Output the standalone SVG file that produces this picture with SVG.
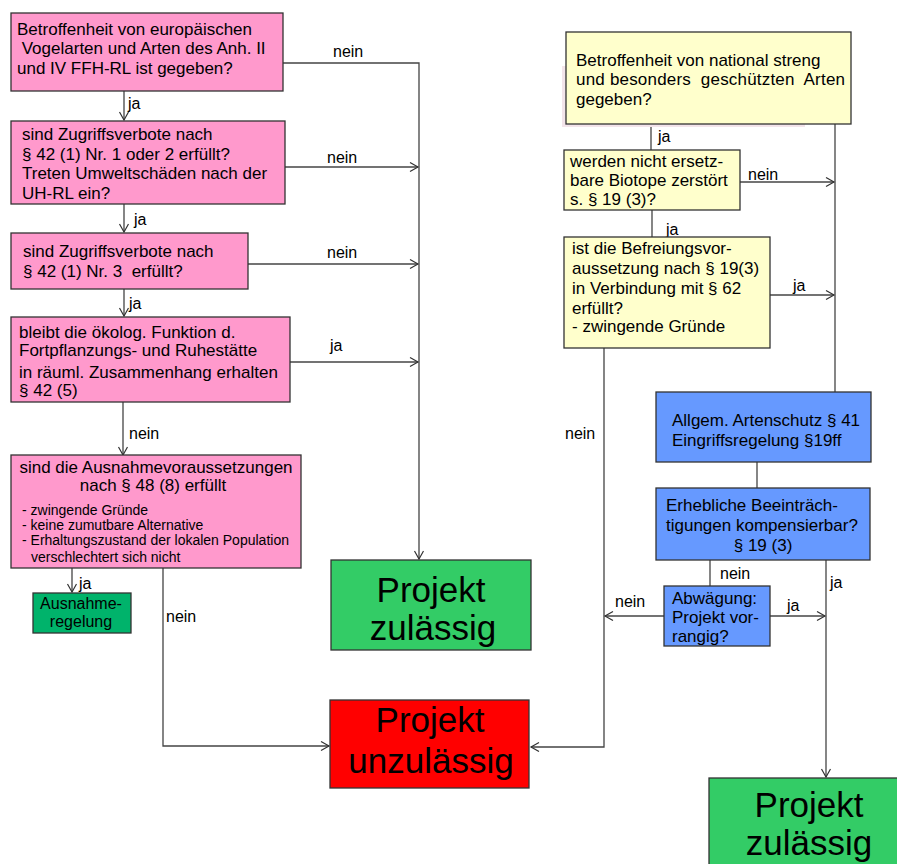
<svg xmlns="http://www.w3.org/2000/svg" width="897" height="864" viewBox="0 0 897 864">
<defs>
<marker id="arr" markerUnits="userSpaceOnUse" markerWidth="12" markerHeight="12" refX="9" refY="5" orient="auto">
<path d="M1,0.5 L9,5 L1,9.5" fill="none" stroke="#333" stroke-width="1.2"/>
</marker>
<style>
text{font-family:"Liberation Sans",Arial,sans-serif;fill:#000}
.t{font-size:17px}
.s{font-size:14px}
.l{font-size:16px}
.b{font-size:35px;text-anchor:middle}
.box{stroke:#333;stroke-width:1.3}
.pink{fill:#FF99CC}
.yel{fill:#FFFFCC}
.blue{fill:#6699FF}
.grn{fill:#33CC66}
.dgrn{fill:#00B36B}
.red{fill:#FF0000}
.c{fill:none;stroke:#444;stroke-width:1.3}
.a{marker-end:url(#arr)}
</style>
</defs>
<rect width="897" height="864" fill="#fff"/>

<g id="connectors">
<polyline class="c a" points="283,63 419,63 419,559"/>
<line class="c a" x1="124" y1="91" x2="124" y2="120"/>
<line class="c a" x1="285" y1="167" x2="418" y2="167"/>
<line class="c a" x1="124" y1="204" x2="124" y2="232"/>
<line class="c a" x1="248" y1="264" x2="418" y2="264"/>
<line class="c a" x1="124" y1="289" x2="124" y2="316"/>
<line class="c a" x1="290" y1="362" x2="418" y2="362"/>
<line class="c a" x1="123" y1="402" x2="123" y2="455"/>
<line class="c a" x1="72" y1="568" x2="72" y2="592"/>
<polyline class="c a" points="163,568 163,746 329,746"/>
<line class="c" x1="651" y1="124" x2="651" y2="150"/>
<line class="c" x1="835" y1="124" x2="835" y2="392"/>
<line class="c a" x1="740" y1="182" x2="834" y2="182"/>
<line class="c" x1="652" y1="210" x2="652" y2="237"/>
<line class="c a" x1="770" y1="295" x2="834" y2="295"/>
<polyline class="c a" points="604,348 604,747 531,747"/>
<line class="c" x1="757" y1="462" x2="757" y2="488"/>
<line class="c" x1="710" y1="560" x2="710" y2="586"/>
<line class="c a" x1="826" y1="560" x2="826" y2="777"/>
<line class="c a" x1="664" y1="616" x2="605" y2="616"/>
<line class="c a" x1="770" y1="616" x2="825" y2="616"/>
<text class="l" x="333" y="57">nein</text>
<text class="l" x="128" y="109">ja</text>
<text class="l" x="327" y="163">nein</text>
<text class="l" x="134" y="225">ja</text>
<text class="l" x="327" y="258">nein</text>
<text class="l" x="129" y="309">ja</text>
<text class="l" x="330" y="351">ja</text>
<text class="l" x="129" y="439">nein</text>
<text class="l" x="79" y="589">ja</text>
<text class="l" x="166" y="622">nein</text>
<text class="l" x="658" y="142">ja</text>
<text class="l" x="748" y="180">nein</text>
<text class="l" x="666" y="235">ja</text>
<text class="l" x="793" y="291">ja</text>
<text class="l" x="565" y="439">nein</text>
<text class="l" x="720" y="579">nein</text>
<text class="l" x="830" y="588">ja</text>
<text class="l" x="615" y="607">nein</text>
<text class="l" x="787" y="611">ja</text>
</g>

<g id="n1">
<rect class="box pink" x="11" y="13" width="272" height="78"/>
<text class="t" x="17" y="35">Betroffenheit von europäischen</text>
<text class="t" x="17" y="54" xml:space="preserve"> Vogelarten und Arten des Anh. II</text>
<text class="t" x="17" y="74">und IV FFH-RL ist gegeben?</text>
</g>
<g id="n2">
<rect class="box pink" x="11" y="121" width="274" height="83"/>
<text class="t" x="22" y="140">sind Zugriffsverbote nach</text>
<text class="t" x="22" y="160">§ 42 (1) Nr. 1 oder 2 erfüllt?</text>
<text class="t" x="22" y="179">Treten Umweltschäden nach der</text>
<text class="t" x="22" y="199">UH-RL ein?</text>
</g>
<g id="n3">
<rect class="box pink" x="11" y="233" width="237" height="56"/>
<text class="t" x="23" y="257">sind Zugriffsverbote nach</text>
<text class="t" x="23" y="277" xml:space="preserve">§ 42 (1) Nr. 3  erfüllt?</text>
</g>
<g id="n4">
<rect class="box pink" x="11" y="317" width="279" height="85"/>
<text class="t" x="19" y="338">bleibt die ökolog. Funktion d.</text>
<text class="t" x="19" y="356">Fortpflanzungs- und Ruhestätte</text>
<text class="t" x="19" y="378">in räuml. Zusammenhang erhalten</text>
<text class="t" x="19" y="396">§ 42 (5)</text>
</g>
<g id="n5">
<rect class="box pink" x="11" y="455" width="290" height="113"/>
<text class="t" x="156" y="473" text-anchor="middle">sind die Ausnahmevoraussetzungen</text>
<text class="t" x="153" y="491" text-anchor="middle">nach § 48 (8) erfüllt</text>
<text class="s" x="22" y="515">- zwingende Gründe</text>
<text class="s" x="22" y="530">- keine zumutbare Alternative</text>
<text class="s" x="22" y="545">- Erhaltungszustand der lokalen Population</text>
<text class="s" x="31" y="562">verschlechtert sich nicht</text>
</g>
<g id="n6">
<rect class="box dgrn" x="33" y="593" width="98" height="40"/>
<text class="l" x="81" y="609" text-anchor="middle">Ausnahme-</text>
<text class="l" x="81" y="627" text-anchor="middle">regelung</text>
</g>
<g id="n7">
<rect class="box grn" x="331" y="560" width="200" height="90"/>
<text class="b" x="431" y="602">Projekt</text>
<text class="b" x="433" y="640">zulässig</text>
</g>
<g id="n8">
<rect class="box red" x="330" y="700" width="199" height="88"/>
<text class="b" x="430" y="732">Projekt</text>
<text class="b" x="431" y="773">unzulässig</text>
</g>
<g id="n9">
<rect x="562" y="66" width="243" height="61" fill="#F3E4EA"/>
<rect class="box yel" x="566" y="32" width="285" height="92"/>
<text class="t" x="576" y="66">Betroffenheit von national streng</text>
<text class="t" x="576" y="85" textLength="269" lengthAdjust="spacing" xml:space="preserve">und besonders  geschützten  Arten</text>
<text class="t" x="576" y="105">gegeben?</text>
</g>
<g id="n10">
<rect class="box yel" x="564" y="150" width="176" height="60"/>
<text class="t" x="570" y="167">werden nicht ersetz-</text>
<text class="t" x="570" y="186">bare Biotope zerstört</text>
<text class="t" x="570" y="205">s. § 19 (3)?</text>
</g>
<g id="n11">
<rect class="box yel" x="564" y="237" width="206" height="111"/>
<text class="t" x="572" y="254">ist die Befreiungsvor-</text>
<text class="t" x="572" y="274">aussetzung nach § 19(3)</text>
<text class="t" x="572" y="294">in Verbindung mit § 62</text>
<text class="t" x="572" y="314">erfüllt?</text>
<text class="t" x="572" y="332">- zwingende Gründe</text>
</g>
<g id="n12">
<rect class="box blue" x="656" y="392" width="215" height="70"/>
<text class="t" x="672" y="426">Allgem. Artenschutz § 41</text>
<text class="t" x="672" y="446">Eingriffsregelung §19ff</text>
</g>
<g id="n13">
<rect class="box blue" x="656" y="488" width="214" height="72"/>
<text class="t" x="666" y="511">Erhebliche Beeinträch-</text>
<text class="t" x="666" y="531">tigungen kompensierbar?</text>
<text class="t" x="763" y="551" text-anchor="middle">§ 19 (3)</text>
</g>
<g id="n14">
<rect class="box blue" x="664" y="586" width="106" height="60"/>
<text class="t" x="672" y="604">Abwägung:</text>
<text class="t" x="672" y="623">Projekt vor-</text>
<text class="t" x="672" y="642">rangig?</text>
</g>
<g id="n15">
<rect class="box grn" x="709" y="778" width="210" height="100"/>
<text class="b" x="809" y="817">Projekt</text>
<text class="b" x="809" y="855">zulässig</text>
</g>
</svg>
